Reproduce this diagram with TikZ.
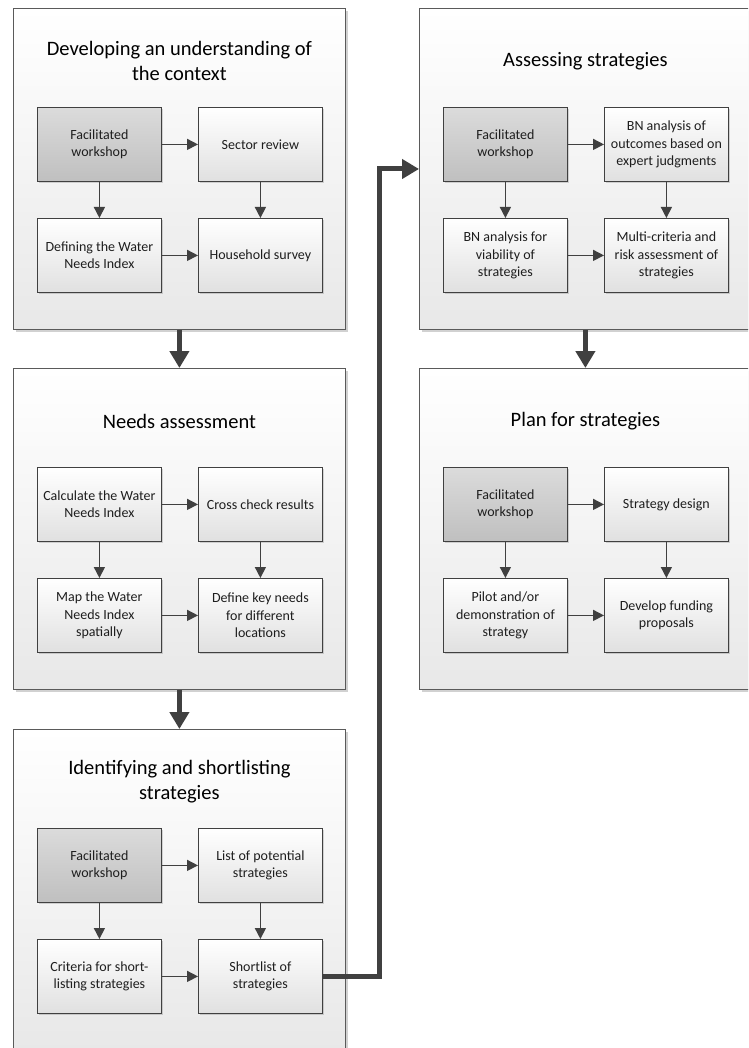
\documentclass[tikz,border=0pt]{standalone}
\usepackage{fontspec}
\setmainfont{Carlito}
\usetikzlibrary{arrows.meta,shadows}
\definecolor{edge}{HTML}{404040}
\definecolor{pedge}{HTML}{5A5A5A}
\definecolor{txt}{HTML}{1E1E1E}
\tikzset{
  panel/.style={draw=pedge, line width=0.8pt, top color=white, bottom color=black!9,
    minimum width=332pt, minimum height=321pt, anchor=north west, inner sep=0pt,
    drop shadow={shadow xshift=2.5pt, shadow yshift=-2.5pt, fill=black, opacity=0.18}},
  ptitle/.style={align=center, text=black, font=\fontsize{20.5}{25}\selectfont, inner sep=0pt},
  wbox/.style={draw=edge, line width=0.8pt, top color=white, bottom color=black!12,
    minimum width=124pt, minimum height=74pt, anchor=north west, inner sep=2pt,
    align=center, text=txt, font=\fontsize{14}{17.5}\selectfont,
    drop shadow={shadow xshift=1.5pt, shadow yshift=-1.5pt, fill=black, opacity=0.15}},
  gbox/.style={wbox, top color=black!14, bottom color=black!25},
  sarrow/.style={draw=edge, line width=1.5pt, -{Triangle[length=11pt,width=11pt]}},
  tarrow/.style={draw=edge, line width=5pt, line join=miter, -{Triangle[length=17pt,width=19pt]}}
}
% #1 name, #2 x, #3 y, #4 style of first box, #5 title, #6-#9 box texts
\newcommand\stagepanel[9]{%
  \node[panel] (#1) at (#2,#3) {};
  \node[ptitle] (#1t) at ([yshift=-53pt]#1.north) {#5};
  \node[#4]   (#1a) at ([xshift=24pt,yshift=-99pt]#1.north west) {#6};
  \node[wbox] (#1b) at ([xshift=185pt,yshift=-99pt]#1.north west) {#7};
  \node[wbox] (#1c) at ([xshift=24pt,yshift=-210pt]#1.north west) {#8};
  \node[wbox] (#1d) at ([xshift=185pt,yshift=-210pt]#1.north west) {#9};
  \draw[sarrow] (#1a.east) -- (#1b.west);
  \draw[sarrow] (#1a.south) -- (#1c.north);
  \draw[sarrow] (#1b.south) -- (#1d.north);
  \draw[sarrow] (#1c.east) -- (#1d.west);
}
\begin{document}
\begin{tikzpicture}[x=1pt,y=-1pt]
\useasboundingbox (0,0) rectangle (748,1048);
\clip (0,0) rectangle (748,1048);
\fill[white] (0,0) rectangle (748,1048);

\stagepanel{pA}{13}{8}{gbox}{Developing an understanding of\\the context}
  {Facilitated\\workshop}{Sector review}{Defining the Water\\Needs Index}{Household survey}
\stagepanel{pB}{13}{368}{wbox}{Needs assessment}
  {Calculate the Water\\Needs Index}{Cross check results}{Map the Water\\Needs Index\\spatially}{Define key needs\\for different\\locations}
\stagepanel{pC}{13}{729}{gbox}{Identifying and shortlisting\\strategies}
  {Facilitated\\workshop}{List of potential\\strategies}{Criteria for short-\\listing strategies}{Shortlist of\\strategies}
\stagepanel{pD}{419}{8}{gbox}{Assessing strategies}
  {Facilitated\\workshop}{BN analysis of\\outcomes based on\\expert judgments}{BN analysis for\\viability of\\strategies}{Multi-criteria and\\risk assessment of\\strategies}
\stagepanel{pE}{419}{368}{gbox}{Plan for strategies}
  {Facilitated\\workshop}{Strategy design}{Pilot and/or\\demonstration of\\strategy}{Develop funding\\proposals}

\draw[tarrow] (pA.south) -- (pB.north);
\draw[tarrow] (pB.south) -- (pC.north);
\draw[tarrow] (pD.south) -- (pE.north);
\coordinate (inD) at ([yshift=-161pt]pD.north west);
\draw[tarrow] (pCd.east) -| ([xshift=-40pt]inD) -- (inD);
\end{tikzpicture}
\end{document}
